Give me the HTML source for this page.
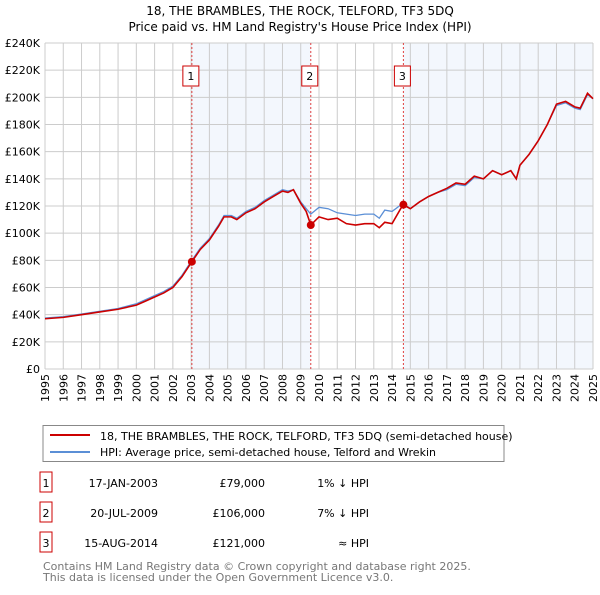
<!DOCTYPE html>
<html><head><meta charset="utf-8"><style>
body{margin:0;background:#fff;font-family:"Liberation Sans","DejaVu Sans",sans-serif;}
svg text{font-family:"DejaVu Sans","Liberation Sans",sans-serif;}
</style></head><body>
<svg id="c" width="600" height="590" xmlns="http://www.w3.org/2000/svg">
<text x="300" y="15" text-anchor="middle" font-size="12" fill="#000">18, THE BRAMBLES, THE ROCK, TELFORD, TF3 5DQ</text>
<text x="300" y="31" text-anchor="middle" font-size="12" fill="#000">Price paid vs. HM Land Registry's House Price Index (HPI)</text>
<g id="plot"></g>
<g>
<rect x="43" y="425.5" width="461" height="36" fill="#fff" stroke="#888"/>
<line x1="50" y1="435" x2="90" y2="435" stroke="#cc0000" stroke-width="2"/>
<text x="100" y="440" font-size="11">18, THE BRAMBLES, THE ROCK, TELFORD, TF3 5DQ (semi-detached house)</text>
<line x1="50" y1="452" x2="90" y2="452" stroke="#5b8fd6" stroke-width="2"/>
<text x="100" y="456" font-size="11">HPI: Average price, semi-detached house, Telford and Wrekin</text>
</g>
<g id="table" font-size="11"></g>
<text x="43" y="570" font-size="11" fill="#777">Contains HM Land Registry data © Crown copyright and database right 2025.</text>
<text x="43" y="581" font-size="11" fill="#777">This data is licensed under the Open Government Licence v3.0.</text>
</svg>
<script>
const yTicks=[0,20,40,60,80,100,120,140,160,180,200,220,240];
const years=[1995,1996,1997,1998,1999,2000,2001,2002,2003,2004,2005,2006,2007,2008,2009,2010,2011,2012,2013,2014,2015,2016,2017,2018,2019,2020,2021,2022,2023,2024,2025];
const redT=[1995,1996,1997,1998,1999,2000,2000.5,2001,2001.5,2002,2002.5,2003.04,2003.5,2004,2004.5,2004.8,2005.2,2005.5,2006,2006.5,2007,2007.5,2008,2008.3,2008.6,2009,2009.3,2009.55,2010,2010.5,2011,2011.5,2012,2012.5,2013,2013.3,2013.6,2014,2014.6,2015,2015.5,2016,2016.5,2017,2017.5,2018,2018.5,2019,2019.5,2020,2020.5,2020.8,2021,2021.5,2022,2022.5,2023,2023.5,2024,2024.3,2024.7,2025];
const redV=[37,38,40,42,44,47,50,53,56,60,68,79,88,95,105,112,112,110,115,118,123,127,131,130,132,122,116,106,112,110,111,107,106,107,107,104,108,107,121,118,123,127,130,133,137,136,142,140,146,143,146,140,150,158,168,180,195,197,193,192,203,199];
const hpiT=[1995,1996,1997,1998,1999,2000,2000.5,2001,2001.5,2002,2002.5,2003.04,2003.5,2004,2004.5,2004.8,2005.2,2005.5,2006,2006.5,2007,2007.5,2008,2008.3,2008.6,2009,2009.3,2009.55,2010,2010.5,2011,2011.5,2012,2012.5,2013,2013.3,2013.6,2014,2014.6,2015,2015.5,2016,2016.5,2017,2017.5,2018,2018.5,2019,2019.5,2020,2020.5,2020.8,2021,2021.5,2022,2022.5,2023,2023.5,2024,2024.3,2024.7,2025];
const hpiV=[37.5,38.5,40.5,42.5,44.5,48,51,54,57,61,69,80,89,96,106,113,113,111,116,119,124,128,132,131,132,123,118,114,119,118,115,114,113,114,114,111,117,116,122,118,123,127,130,132,136,135,141,140,146,143,146,140,150,158,168,180,194,196,192,191,202,199];
const saleT=[2003.04,2009.55,2014.62];
const saleV=[79,106,121];
const saleLbl=["1","2","3"];
const saleDate=["17-JAN-2003","20-JUL-2009","15-AUG-2014"];
const salePrice=["£79,000","£106,000","£121,000"];
const saleRel=["1% ↓ HPI","7% ↓ HPI","≈ HPI"];
const NS="http://www.w3.org/2000/svg";
const L=45,R=593,T=43,B=369;
const x=t=>L+(t-1995)/30*(R-L);
const y=v=>B-v/240*(B-T);
const plot=document.getElementById('plot');
function mk(tag,attrs,parent){const e=document.createElementNS(NS,tag);for(const k in attrs)e.setAttribute(k,attrs[k]);(parent||plot).appendChild(e);return e;}
let s1=mk('rect',{x:x(saleT[0]),y:T,width:x(saleT[1])-x(saleT[0]),height:B-T,fill:'#eef3fc',opacity:0.7});


let s2=mk('rect',{x:x(saleT[2]),y:T,width:R-x(saleT[2]),height:B-T,fill:'#eef3fc',opacity:0.7});


yTicks.forEach(v=>{
 let g=mk('line',{x1:L,x2:R,y1:y(v),y2:y(v),stroke:'#ccc','stroke-width':1});
 
 
 let t=mk('text',{x:L-5,y:y(v)+4,'text-anchor':'end','font-size':11});
 t.textContent='£'+v+(v?'K':'');
 
 
});
years.forEach(yr=>{
 let g=mk('line',{x1:x(yr),x2:x(yr),y1:T,y2:B,stroke:'#ccc','stroke-width':1});
 
 
 let t=mk('text',{x:0,y:0,'text-anchor':'end','font-size':11,transform:`translate(${x(yr)+4},${B+5}) rotate(-90)`});
 t.textContent=yr;
 
 
});
saleT.forEach((t,i)=>{
 let l=mk('line',{x1:x(t),x2:x(t),y1:T,y2:B,stroke:'#e04040','stroke-width':1,'stroke-dasharray':'2,2'});
 
 
});
let hp=mk('polyline',{points:hpiT.map((t,i)=>x(t)+','+y(hpiV[i])).join(' '),fill:'none',stroke:'#5b8fd6','stroke-width':1.3});


let rp=mk('polyline',{points:redT.map((t,i)=>x(t)+','+y(redV[i])).join(' '),fill:'none',stroke:'#cc0000','stroke-width':1.6});


saleT.forEach((t,i)=>{
 let c=mk('circle',{cx:x(t),cy:y(saleV[i]),r:4,fill:'#cc0000'});
 
 
 let b=mk('rect',{x:x(t)-9,y:66,width:16,height:20,fill:'#fff',stroke:'#cc0000'});
 
 
 let tx=mk('text',{x:x(t)-1,y:80,'text-anchor':'middle','font-size':11});
 tx.textContent=saleLbl[i];
 
 
});
const tb=document.getElementById('table');
saleT.forEach((t,i)=>{
 const yy=483+i*30;
 let b=mk('rect',{x:40,y:yy-11,width:12,height:20,fill:'#fff',stroke:'#cc0000'},tb);
 
 
 const cells=[[46,saleLbl[i],'middle'],[158,saleDate[i],'end'],[265,salePrice[i],'end'],[369,saleRel[i],'end']];
 cells.forEach(c=>{
  let e=mk('text',{x:c[0],y:yy+4,'text-anchor':c[2]},tb);
  e.textContent=c[1];
  
  
 });
});
</script>
</body></html>
